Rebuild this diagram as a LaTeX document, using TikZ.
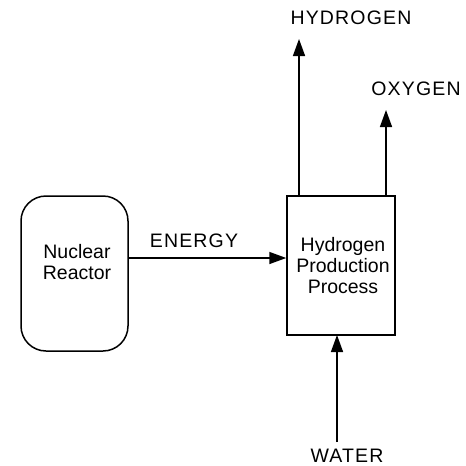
\documentclass[tikz,border=0pt]{standalone}
\usepackage{fontspec}
\setmainfont{Liberation Sans}
\newfontfamily\capsfont[LetterSpace=6]{Liberation Sans}
\usetikzlibrary{arrows.meta}
\begin{document}
\begin{tikzpicture}[x=1pt,y=-1pt,
  line/.style={line width=1.5pt, black},
  flow/.style={line, -{Triangle[length=17pt,width=12pt]}},
  caplbl/.style={inner sep=0pt, font=\fontsize{19.5}{21}\selectfont\capsfont},
  blk/.style={inner sep=0pt, align=center, font=\fontsize{19.5}{21}\selectfont}]
\useasboundingbox (0,0) rectangle (466,466);
% reactor
\draw[line, rounded corners=25pt] (21,196) rectangle (128,351);
\node[blk, anchor=base] (rtext) at (77,279) {Nuclear\\Reactor};
\coordinate (reactor) at (128,258);
% process box
\node[line, draw, minimum width=108pt, minimum height=139pt, inner sep=0pt] (proc) at (341,265.5) {};
\node[blk, anchor=base] (ptext) at (343,293) {Hydrogen\\Production\\Process};
% energy
\coordinate (einto) at (proc.west |- reactor);
\draw[flow] (reactor) -- (einto);
\node[caplbl] (energy) at (194,240.5) {ENERGY};
% hydrogen
\coordinate (hbase) at (299,196);
\coordinate (htip) at (299,39);
\draw[flow] (hbase) -- (htip);
\node[caplbl] (hyd) at (351,17.5) {HYDROGEN};
% oxygen
\coordinate (obase) at (386,196);
\coordinate (otip) at (386,110);
\draw[flow] (obase) -- (otip);
\node[caplbl] (oxy) at (416,89) {OXYGEN};
% water
\coordinate (wbase) at (337,442);
\coordinate (wtip) at (337,335);
\draw[flow] (wbase) -- (wtip);
\node[caplbl] (water) at (347,456) {WATER};
\end{tikzpicture}
\end{document}
